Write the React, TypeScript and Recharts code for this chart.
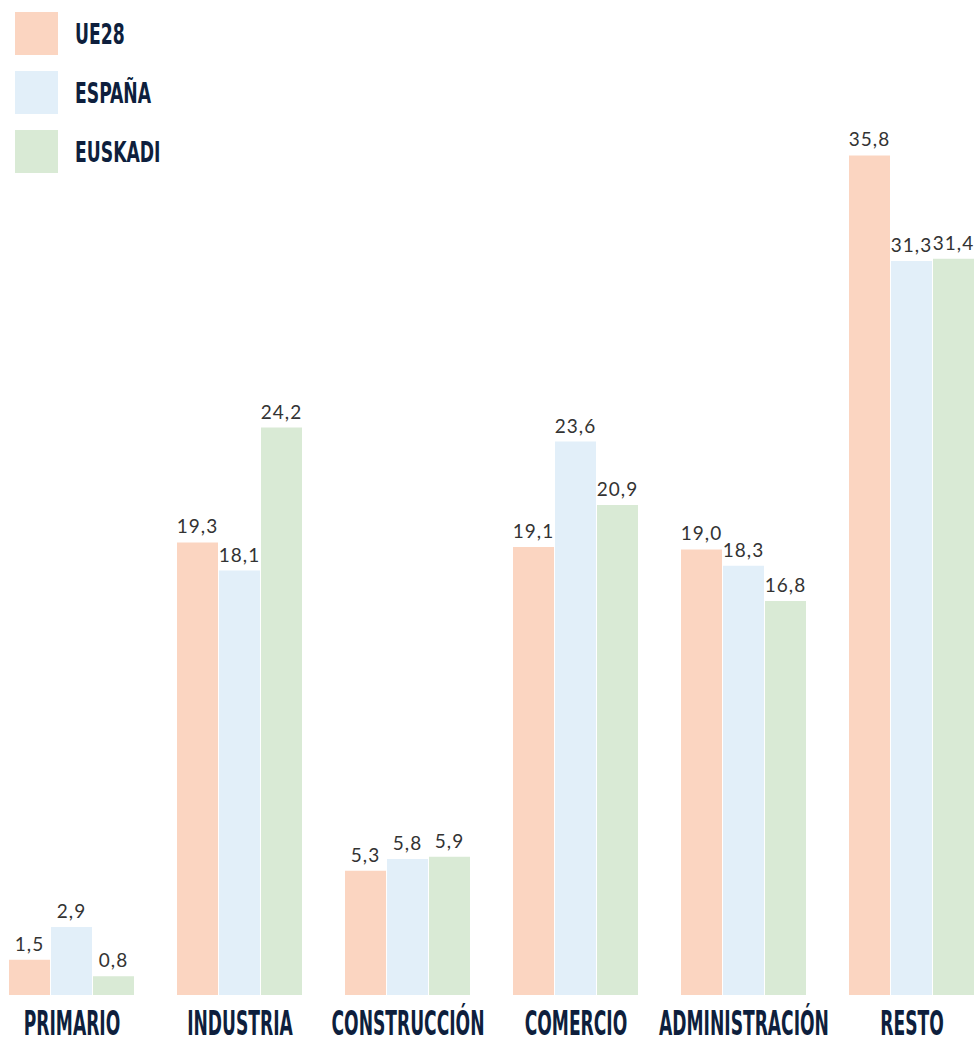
import { BarChart, Bar, XAxis, YAxis, LabelList } from 'recharts';

// categorías y valores (%)
const CATEGORIES = ['PRIMARIO', 'INDUSTRIA', 'CONSTRUCCIÓN', 'COMERCIO', 'ADMINISTRACIÓN', 'RESTO'];
const UE28 = [1.5, 19.3, 5.3, 19.1, 19.0, 35.8];
const ESPANA = [2.9, 18.1, 5.8, 23.6, 18.3, 31.3];
const EUSKADI = [0.8, 24.2, 5.9, 20.9, 16.8, 31.4];

const SERIES = [
  { key: 'ue28', name: 'UE28', color: '#FBD5C1' },
  { key: 'espana', name: 'ESPAÑA', color: '#E2EFF9' },
  { key: 'euskadi', name: 'EUSKADI', color: '#D9EAD5' },
];

const data = CATEGORIES.map((cat, i) => ({
  cat,
  ue28: UE28[i],
  espana: ESPANA[i],
  euskadi: EUSKADI[i],
}));

const NAVY = '#0E1F3D';
const CONDENSED = '"Liberation Sans Narrow", "DejaVu Sans Condensed", sans-serif';

const fmt = (v: number) => v.toFixed(1).replace('.', ',');

function CatTick(props: any) {
  const { x, y, payload } = props;
  return (
    <text
      transform={`translate(${x},${y + 32}) scale(0.56,1)`}
      textAnchor="middle"
      fill={NAVY}
      fontFamily={CONDENSED}
      fontWeight="bold"
      fontSize={34}
    >
      {payload.value}
    </text>
  );
}

export default function App() {
  return (
    <div style={{ position: 'absolute', left: 0, top: 0, width: 980, height: 1041, background: '#fff' }}>
      <BarChart
        width={980}
        height={1041}
        data={data}
        margin={{ top: 57, right: -16, left: -12, bottom: 0 }}
        barCategoryGap="12.5%"
        barGap={1}
      >
        <XAxis
          dataKey="cat"
          axisLine={false}
          tickLine={false}
          height={46}
          interval={0}
          tick={<CatTick />}
        />
        <YAxis hide domain={[0, 40]} />
        {SERIES.map((s) => (
          <Bar key={s.key} dataKey={s.key} name={s.name} fill={s.color} isAnimationActive={false}>
            <LabelList
              dataKey={s.key}
              position="top"
              offset={9}
              formatter={(v: any) => fmt(Number(v))}
              fill="#333"
              fontSize={19}
              fontFamily="Lato, sans-serif"
              style={{ letterSpacing: 1 }}
            />
          </Bar>
        ))}
      </BarChart>

      {/* leyenda */}
      <div style={{ position: 'absolute', left: 15, top: 12 }}>
        {SERIES.map((s) => (
          <div key={s.key} style={{ display: 'flex', alignItems: 'center', height: 43, marginBottom: 16 }}>
            <div style={{ width: 43, height: 43, background: s.color }} />
            <span
              style={{
                marginLeft: 17,
                fontFamily: CONDENSED,
                fontWeight: 'bold',
                fontSize: 29,
                color: NAVY,
                display: 'inline-block',
                transform: 'scaleX(0.66)',
                transformOrigin: 'left center',
              }}
            >
              {s.name}
            </span>
          </div>
        ))}
      </div>
    </div>
  );
}
